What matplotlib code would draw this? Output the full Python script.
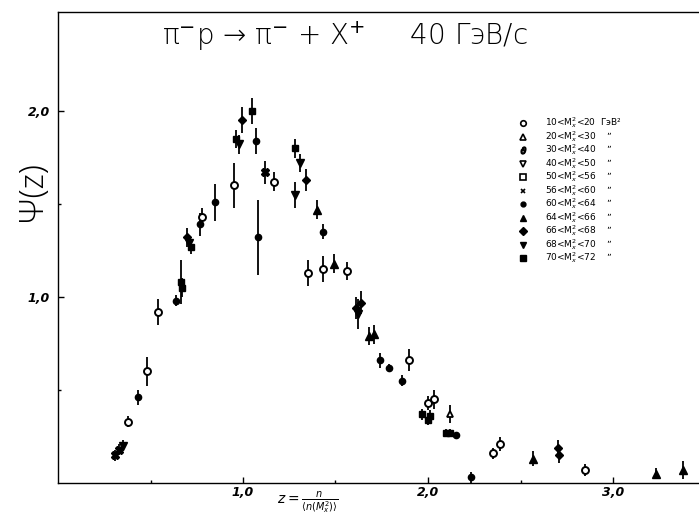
import matplotlib
matplotlib.use("Agg")
import matplotlib.pyplot as plt

# ---- data (z, psi, error) per mass bin ----
open_circle_z = [0.38, 0.48, 0.54, 0.78, 0.95, 1.17, 1.35, 1.43, 1.56, 1.90, 2.00, 2.03, 2.35, 2.39, 2.85]
open_circle_y = [0.33, 0.60, 0.92, 1.43, 1.60, 1.62, 1.13, 1.15, 1.14, 0.66, 0.43, 0.45, 0.16, 0.21, 0.07]
open_circle_e = [0.03, 0.08, 0.07, 0.05, 0.12, 0.05, 0.07, 0.07, 0.05, 0.06, 0.04, 0.05, 0.03, 0.04, 0.03]

open_tri_z = [2.12]
open_tri_y = [0.37]
open_tri_e = [0.05]

star_z = [0.31, 0.33, 1.12]
star_y = [0.15, 0.18, 1.67]
star_e = [0.03, 0.03, 0.06]

dot_z = [0.43, 0.64, 0.77, 0.85, 1.07, 1.08, 1.43, 1.74, 1.79, 1.86, 2.15, 2.23]
dot_y = [0.46, 0.98, 1.39, 1.51, 1.84, 1.32, 1.35, 0.66, 0.62, 0.55, 0.26, 0.03]
dot_e = [0.04, 0.03, 0.06, 0.10, 0.07, 0.20, 0.04, 0.04, 0.02, 0.03, 0.01, 0.03]

tri_z = [1.40, 1.49, 1.68, 1.71, 2.57, 3.23, 3.38]
tri_y = [1.47, 1.18, 0.79, 0.80, 0.13, 0.05, 0.07]
tri_e = [0.05, 0.05, 0.05, 0.05, 0.04, 0.03, 0.05]

dia_z = [0.70, 0.995, 1.34, 1.61, 1.64, 2.70, 2.71]
dia_y = [1.32, 1.95, 1.63, 0.94, 0.97, 0.19, 0.15]
dia_e = [0.05, 0.07, 0.06, 0.06, 0.06, 0.04, 0.04]

dtri_z = [0.35, 0.71, 0.98, 1.28, 1.31, 1.62]
dtri_y = [0.20, 1.29, 1.82, 1.55, 1.72, 0.91]
dtri_e = [0.03, 0.04, 0.05, 0.07, 0.05, 0.08]

sq_z = [0.665, 0.67, 0.72, 0.96, 1.05, 1.28, 1.97, 2.00, 2.01, 2.10, 2.12]
sq_y = [1.08, 1.05, 1.27, 1.85, 2.00, 1.80, 0.37, 0.34, 0.36, 0.27, 0.27]
sq_e = [0.12, 0.05, 0.04, 0.05, 0.07, 0.05, 0.03, 0.03, 0.03, 0.02, 0.02]

legend_labels = ["10", "20", "30", "40", "50", "56", "60", "64", "66", "68", "70", "72"]

x_ticks = [1.0, 2.0, 3.0]
x_ticklabels = ["1,0", "2,0", "3,0"]
y_ticks = [1.0, 2.0]
y_ticklabels = ["1,0", "2,0"]

W, H = 699, 518
fig = plt.figure(figsize=(W / 100, H / 100), dpi=100)
ax = fig.add_axes([58 / W, 1 - 483 / H, 1 - 58 / W, (483 - 12) / H])
ax.set_xlim(0, (W - 58) / 185)
ax.set_ylim(0, (483 - 12) / 186)

series = [
    (open_circle_z, open_circle_y, open_circle_e, dict(marker='o', mfc='white', mec='black', mew=1.4, ms=5)),
    (open_tri_z, open_tri_y, open_tri_e, dict(marker='^', mfc='white', mec='black', mew=1.3, ms=5)),
    (star_z, star_y, star_e, dict(marker='X', mfc='black', mec='black', ms=6)),
    (dot_z, dot_y, dot_e, dict(marker='o', mfc='black', mec='black', ms=4.5)),
    (tri_z, tri_y, tri_e, dict(marker='^', mfc='black', mec='black', ms=5.5)),
    (dia_z, dia_y, dia_e, dict(marker='D', mfc='black', mec='black', ms=4.5)),
    (dtri_z, dtri_y, dtri_e, dict(marker='v', mfc='black', mec='black', ms=5.5)),
    (sq_z, sq_y, sq_e, dict(marker='s', mfc='black', mec='black', ms=5)),
]
for z, y, e, st in series:
    ax.errorbar(z, y, yerr=e, fmt='none', ecolor='black', elinewidth=1.3, capsize=0, zorder=2)
    ax.plot(z, y, linestyle='none', zorder=3, **st)

ax.spines['right'].set_visible(False)
for s in ['left', 'bottom', 'top']:
    ax.spines[s].set_linewidth(1.0)

ax.set_xticks(x_ticks)
ax.set_xticklabels(x_ticklabels, fontsize=9, style='italic', fontweight='bold')
ax.set_yticks(y_ticks)
ax.set_yticklabels(y_ticklabels, fontsize=9, style='italic', fontweight='bold')
ax.set_xticks([0.5, 1.5, 2.5], minor=True)
ax.set_yticks([0.5, 1.5], minor=True)
ax.tick_params(which='major', direction='in', length=4, width=1)
ax.tick_params(which='minor', direction='in', length=2, width=1)
ax.tick_params(axis='x', pad=2)
ax.tick_params(axis='y', pad=6)

# title
fig.text(345 / W, 1 - 36 / H, "\u03c0$^{-}$p \u2192 \u03c0$^{-}$ + X$^{+}$     40 ГэВ/с",
         fontsize=20, ha='center', va='center', fontweight='light',
         family=['DejaVu Sans'])

# y label
fig.text(33 / W, 1 - 192 / H, "\u03a8(z)", fontsize=24, rotation=90, ha='center', va='center',
         fontweight='light', family=['Open Sans', 'DejaVu Sans'])

# x label
fig.text(308 / W, 1 - 503 / H, r"$z=\frac{n}{\langle n(M_x^2)\rangle}$", fontsize=10, ha='center', va='center')

# legend
leg_markers = [
    dict(marker='o', mfc='white', mec='black', mew=1.2, ms=4),
    dict(marker='^', mfc='white', mec='black', mew=1.2, ms=4),
    dict(marker=r'$\vartheta$', mfc='black', mec='black', ms=5),
    dict(marker='v', mfc='white', mec='black', mew=1.2, ms=4),
    dict(marker='s', mfc='white', mec='black', mew=1.2, ms=4),
    dict(marker='x', mfc='black', mec='black', mew=1.2, ms=3.5),
    dict(marker='o', mfc='black', mec='black', ms=3.5),
    dict(marker='^', mfc='black', mec='black', ms=4.5),
    dict(marker='D', mfc='black', mec='black', ms=4),
    dict(marker='v', mfc='black', mec='black', ms=4.5),
    dict(marker='s', mfc='black', mec='black', ms=4),
]
row_y0, row_dy = 123, 13.5
for i, st in enumerate(leg_markers):
    py = row_y0 + i * row_dy
    fig.lines.append(plt.Line2D([523 / W], [1 - py / H], transform=fig.transFigure, linestyle='none', **st))
    lo, hi = legend_labels[i], legend_labels[i + 1]
    tail = "  ГэВ²" if i == 0 else "    \u201d"
    fig.text(545 / W, 1 - py / H, f"{lo}<M$_x^2$<{hi}{tail}", fontsize=6.5, ha='left', va='center')

fig.savefig("out.png", dpi=100)
